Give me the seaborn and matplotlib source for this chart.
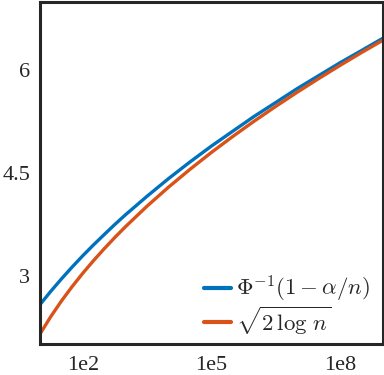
import numpy as np
import pandas as pd
import matplotlib
matplotlib.use("Agg")
import matplotlib.pyplot as plt
from matplotlib import font_manager
import seaborn as sns

# sample sizes
n_vals = [1e1, 1.778e1, 3.162e1, 5.623e1, 1e2, 1.778e2, 3.162e2, 5.623e2, 1e3,
          3.162e3, 1e4, 3.162e4, 1e5, 3.162e5, 1e6, 3.162e6, 1e7, 3.162e7,
          1e8, 3.162e8, 1e9]
# Phi^{-1}(1 - alpha/n)
phi_inv = [2.576, 2.769, 2.951, 3.125, 3.291, 3.449, 3.600, 3.749, 3.891,
           4.160, 4.417, 4.660, 4.892, 5.110, 5.327, 5.528, 5.731, 5.920,
           6.109, 6.287, 6.467]
# sqrt(2 log n)
sqrt2log = [2.146, 2.399, 2.628, 2.839, 3.035, 3.219, 3.393, 3.559, 3.717,
            4.015, 4.292, 4.552, 4.799, 5.033, 5.257, 5.471, 5.678, 5.877,
            6.070, 6.257, 6.438]

labels = [r"$\Phi^{-1}(1-\alpha/n)$", r"$\sqrt{2\,\log\,n}$"]
colors = ["#0072BD", "#D95319"]
xticks = [1e2, 1e5, 1e8]
xticklabels = ["1e2", "1e5", "1e8"]
yticks = [3, 4.5, 6]
yticklabels = ["3", "4.5", "6"]

df = pd.DataFrame({
    "n": n_vals * 2,
    "value": phi_inv + sqrt2log,
    "series": [labels[0]] * len(n_vals) + [labels[1]] * len(n_vals),
})

sns.set_style("white")
serif_path = font_manager.findfont(font_manager.FontProperties(family="Liberation Serif"))
serif_prop = font_manager.FontProperties(fname=serif_path, size=16)
plt.rcParams["font.family"] = "serif"
plt.rcParams["font.serif"] = ["Liberation Serif", "DejaVu Serif"]
plt.rcParams["mathtext.fontset"] = "cm"

fig = plt.figure(figsize=(3.84, 3.75), dpi=100)
ax = fig.add_axes([40 / 384, 31 / 375, 342.5 / 384, 342 / 375])

sns.lineplot(data=df, x="n", y="value", hue="series", palette=colors,
             linewidth=2.4, ax=ax, legend=True)
ax.set_xscale("log")
ax.set_xlim(1e1, 1e9)
ax.set_ylim(2.0, 7.0)
ax.set_xticks(xticks)
ax.set_xticklabels(xticklabels, fontproperties=serif_prop)
ax.set_yticks(yticks)
ax.set_yticklabels(yticklabels, fontproperties=serif_prop)
ax.minorticks_off()
ax.set_xlabel("")
ax.set_ylabel("")
ax.tick_params(axis="both", length=0, colors="#262626")
ax.tick_params(axis="x", pad=9)
ax.tick_params(axis="y", pad=7)
for s in ax.spines.values():
    s.set_color("#262626")
    s.set_linewidth(2.2)
    s.set_visible(True)

leg = ax.legend(loc="lower right", frameon=False, fontsize=16.5,
                handlelength=1.2, handletextpad=0.2, labelspacing=0.0,
                borderaxespad=0.0, bbox_to_anchor=(0.99, -0.005))
for line in leg.get_lines():
    line.set_linewidth(3)

fig.savefig("out.png", dpi=100)
